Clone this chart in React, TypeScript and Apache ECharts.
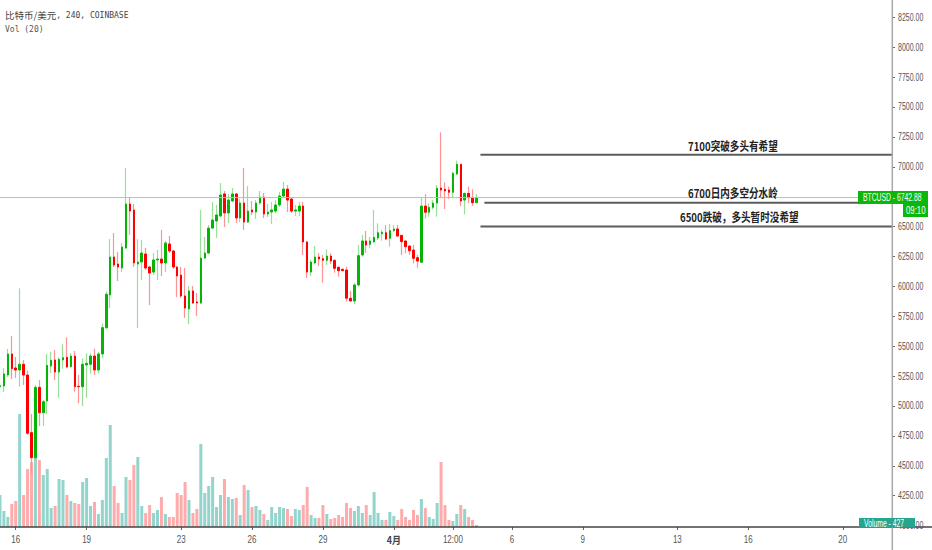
import React, { useEffect, useRef } from "react";
import * as echarts from "echarts";

const openPrices = [
  5161,5167,5259,5435,5318,5301,5349,5259,4777,4568,
  5156,4944,5042,5334,5385,5284,5385,5407,5329,5418,
  5165,5161,5343,5349,5418,5301,5435,5655,5928,6246,
  6187,6154,6321,6689,6639,6187,6204,6271,6162,6120,
  6221,6229,6196,6355,6296,6162,6095,5920,5811,5962,
  5870,5861,6237,6279,6488,6547,6589,6773,6614,6714,
  6773,6572,6697,6538,6639,6622,6697,6747,6605,6622,
  6630,6681,6756,6814,6731,6630,6630,6672,6371,6120,
  6196,6246,6232,6218,6254,6218,6160,6143,6137,5901,
  5878,6012,6263,6380,6352,6371,6405,6441,6449,6402,
  6466,6480,6427,6380,6338,6304,6240,6202,6672,6620,
  6661,6697,6823,6812,6806,6787,6940,7021,6722,6778,
  6742,6700,
];
const closePrices = [
  5170,5268,5435,5312,5301,5349,5259,4772,4568,5156,
  4944,5036,5340,5382,5284,5390,5404,5326,5418,5161,
  5161,5349,5357,5418,5301,5435,5655,5934,6246,6179,
  6162,6329,6689,6630,6196,6204,6279,6154,6112,6221,
  6229,6196,6363,6296,6162,6087,5920,5819,5962,5861,
  5861,6237,6279,6488,6555,6597,6764,6614,6722,6773,
  6572,6697,6538,6630,6622,6697,6747,6605,6622,6639,
  6681,6756,6814,6722,6630,6639,6672,6371,6120,6204,
  6246,6229,6218,6254,6212,6151,6131,6131,5901,5878,
  6012,6257,6380,6346,6380,6410,6449,6452,6396,6466,
  6480,6421,6374,6332,6298,6235,6212,6672,6620,6661,
  6697,6820,6806,6798,6787,6946,7021,6714,6778,6742,
  6700,6742.88,
];
const lowPrices = [
  5084,5117,5242,5226,5234,5161,5176,4758,4440,4492,
  4833,4833,4933,5276,5217,5069,5312,5315,5320,5120,
  5023,5000,5067,5273,5259,5273,5399,5641,5819,6162,
  6045,6120,6313,6430,6162,5652,6054,6137,5844,6095,
  6054,6087,6120,6279,6145,5911,5903,5736,5686,5853,
  5753,5853,6229,6271,6480,6405,6580,6497,6530,6706,
  6530,6538,6472,6530,6597,6564,6681,6572,6580,6522,
  6614,6664,6747,6622,6614,6589,6589,6263,6070,6087,
  6187,6171,6031,6179,6187,6115,6081,6129,5872,5872,
  5853,5998,6248,6282,6318,6365,6388,6382,6388,6332,
  6457,6416,6263,6277,6263,6193,6156,6198,6569,6583,
  6644,6583,6737,6647,6731,6737,6931,6672,6603,6695,
  6672,6695,
];
const highPrices = [
  5276,5318,5477,5585,5410,5984,5385,5295,4933,5176,
  5217,5050,5435,5454,5468,5407,5516,5574,5441,5460,
  5259,5399,5441,5441,5479,5454,5691,5956,6396,6446,
  6288,6363,6990,6739,6689,6396,6388,6321,6170,6279,
  6304,6472,6380,6421,6304,6170,6162,6154,6003,6003,
  5945,6639,6413,6513,6706,6681,6864,6798,6773,6823,
  6781,6731,6990,6839,6714,6722,6798,6781,6689,6706,
  6722,6789,6873,6848,6739,6681,6706,6706,6380,6221,
  6338,6279,6263,6310,6277,6225,6165,6151,6165,5961,
  6026,6346,6430,6463,6415,6639,6527,6472,6513,6522,
  6513,6513,6430,6382,6340,6346,6263,6745,6770,6695,
  6722,6848,7288,6870,6834,6959,7051,7023,6783,6834,
  6812,6772,
];
const volumes = [
  6848,3424,2140,4922,5564,24182,6848,12412,13910,27820,
  14338,11128,12412,4066,4494,10272,10058,6848,5564,5136,
  4922,9630,10486,4494,5350,2782,5778,14766,21828,8774,
  5136,2996,10700,10058,13268,14980,4494,2996,4708,2996,
  3638,6420,2782,2140,2140,7276,6848,9630,5778,2996,
  3852,17762,7276,8774,10700,4280,6848,10272,6420,5992,
  6206,2568,8988,7918,4280,4494,3638,2782,1498,4280,
  2996,4280,4066,3852,2354,3852,3638,4708,8560,2568,
  1926,1926,4708,2782,1712,1926,2568,2140,5136,4066,
  3424,4494,2996,4708,2568,7490,2996,1498,1498,3210,
  2354,1498,3852,2140,1498,3638,2568,5992,4066,2140,
  1712,5136,13910,4708,1498,1284,2782,4708,3852,2140,
  1498,427,
];

const tickIndices = [4, 22, 46, 64, 82, 100, 115, 130, 148, 172, 190, 214];
const tickLabels = ["16", "19", "23", "26", "29", "4月", "12:00", "6", "9", "13", "16", "20"];
const priceTicks = [8250, 8000, 7750, 7500, 7250, 7000, 6750, 6500, 6250, 6000, 5750, 5500, 5250, 5000, 4750, 4500, 4250, 4000];
const barSlots = 227;
const lastPrice = 6742.88;
const levelPrices = [7100, 6700, 6500];
const levelStarts = [122.5, 123.5, 122.5];
const levelNotes = ["7100突破多头有希望", "6700日内多空分水岭", "6500跌破，多头暂时没希望"];

const UP = "#05b505";
const DOWN = "#ff0000";
const SANS = '"Liberation Sans",sans-serif';
const CJK = '"Noto Sans CJK SC",sans-serif';
const MONO = '"DejaVu Sans Mono",monospace';

export default function App() {
  const ref = useRef<HTMLDivElement>(null);
  useEffect(() => {
    const chart = echarts.init(ref.current!, null, { renderer: "svg" });
    const categories = Array.from({ length: barSlots }, (_, i) => {
      const k = tickIndices.indexOf(i);
      return k >= 0 ? tickLabels[k] : String(i);
    });
    const isTick = (i: number) => tickIndices.includes(i);
    const wickData = openPrices.map((o, i) => [o, closePrices[i], lowPrices[i], highPrices[i]]);
    const bodyData = openPrices.map((o, i) => [
      o, closePrices[i], Math.min(o, closePrices[i]), Math.max(o, closePrices[i]),
    ]);
    const volumeData = volumes.map((v, i) => ({
      value: v,
      itemStyle: { color: closePrices[i] >= openPrices[i] ? "#93d4cc" : "#ffabab" },
    }));
    const levelSeries = levelPrices.map((p, k) => ({
      type: "line",
      xAxisIndex: 2,
      yAxisIndex: 0,
      symbol: "none",
      silent: true,
      clip: false,
      z: 6,
      lineStyle: { color: "#5c5c5c", width: 2 },
      data: [[levelStarts[k], p], [barSlots, p]],
    }));
    const noteSpec = [
      { x: 688, y: 145 },
      { x: 688, y: 192.7 },
      { x: 680, y: 216.7 },
    ];
    const tagText = (text: string, x: number, y: number, scaleX: number) => ({
      type: "text",
      z: 11,
      x,
      y,
      scaleX,
      style: { text, fontFamily: SANS, fontSize: 10, fill: "#fff", textVerticalAlign: "middle" },
    });
    chart.setOption({
      animation: false,
      backgroundColor: "#ffffff",
      grid: [
        { left: -2, right: 40, top: 17.3, height: 508.3, outerBoundsMode: "none" },
        { left: -2, right: 40, top: 0, height: 527, outerBoundsMode: "none" },
      ],
      xAxis: [
        { type: "category", gridIndex: 0, data: categories, show: false },
        {
          type: "category",
          gridIndex: 1,
          data: categories,
          axisLine: { show: false, onZero: false },
          axisTick: { show: true, interval: (i: number) => isTick(i), alignWithLabel: true, length: 3, lineStyle: { color: "#666" } },
          axisLabel: { show: false },
          splitLine: { show: false },
        },
        { type: "value", gridIndex: 0, min: 0, max: barSlots, show: false, position: "top", axisLine: { onZero: false } },
      ],
      yAxis: [
        {
          type: "value",
          gridIndex: 0,
          position: "right",
          min: 4000,
          max: 8250,
          interval: 250,
          axisLine: { show: false, onZero: false },
          axisTick: { show: true, length: 3, lineStyle: { color: "#666" } },
          axisLabel: { show: false },
          splitLine: { show: false },
        },
        { type: "value", gridIndex: 1, min: 0, max: 112778, show: false, axisLine: { onZero: false } },
      ],
      series: [
        { type: "bar", name: "Volume", xAxisIndex: 1, yAxisIndex: 1, barWidth: 3, silent: true, z: 1, data: volumeData },
        {
          type: "candlestick",
          name: "wicks",
          xAxisIndex: 0,
          yAxisIndex: 0,
          barWidth: 1,
          silent: true,
          z: 3,
          itemStyle: { color: "#98e098", color0: "#ff9393", borderColor: "#98e098", borderColor0: "#ff9393", borderWidth: 1.2 },
          data: wickData,
        },
        {
          type: "candlestick",
          name: "比特币/美元",
          xAxisIndex: 0,
          yAxisIndex: 0,
          barWidth: 2,
          silent: true,
          z: 4,
          itemStyle: { color: UP, color0: DOWN, borderColor: UP, borderColor0: DOWN, borderWidth: 1 },
          data: bodyData,
        },
        {
          type: "line",
          xAxisIndex: 2,
          yAxisIndex: 0,
          symbol: "none",
          silent: true,
          z: 5,
          lineStyle: { color: "#90dd90", width: 1 },
          data: [[0, lastPrice], [barSlots, lastPrice]],
        },
        ...levelSeries,
      ],
    });
    // The reference's axis type is condensed, which axis labels cannot do, so
    // the labels are scaled texts placed through the axes' own scales.
    const priceLabels = priceTicks.map((p) => ({
      type: "text",
      z: 7,
      x: 898,
      y: chart.convertToPixel({ yAxisIndex: 0 }, p),
      scaleX: 0.7,
      style: { text: p.toFixed(2), fontFamily: SANS, fontSize: 10, fill: "#555", textVerticalAlign: "middle" },
    }));
    const timeLabels = tickLabels.map((t, k) => {
      const month = t === "4月";
      return {
        type: "text",
        z: 7,
        x: chart.convertToPixel({ xAxisIndex: 1 }, categories[tickIndices[k]] === t ? tickIndices[k] : tickIndices[k]),
        y: 540,
        scaleX: month ? 0.9 : 0.8,
        style: {
          text: t,
          fontFamily: month ? CJK : SANS,
          fontWeight: month ? "bold" : "normal",
          fontSize: 10,
          fill: month ? "#444" : "#555",
          textAlign: "center",
          textVerticalAlign: "middle",
        },
      };
    });
    chart.setOption({
      graphic: [
        { type: "line", z: 8, shape: { x1: 0, y1: 527, x2: 932, y2: 527 }, style: { stroke: "#444", lineWidth: 1.3 } },
        { type: "line", z: 8, shape: { x1: 892.3, y1: 0, x2: 892.3, y2: 550 }, style: { stroke: "#a8a8a8", lineWidth: 1.5 } },
        ...priceLabels,
        ...timeLabels,
        ...levelNotes.map((t, k) => ({
          type: "text",
          z: 9,
          x: noteSpec[k].x,
          y: noteSpec[k].y,
          scaleX: 0.8,
          style: { text: t, fontFamily: CJK, fontWeight: "bold", fontSize: 12, fill: "#222", textAlign: "left", textVerticalAlign: "middle" },
        })),
        {
          type: "text",
          z: 9,
          x: 5,
          y: 15,
          style: {
            text: "{a|比特币/美元}{b|, 240, COINBASE}",
            textVerticalAlign: "middle",
            rich: {
              a: { fontFamily: CJK, fontSize: 9.5, fill: "#444" },
              b: { fontFamily: MONO, fontSize: 8, fill: "#444" },
            },
          },
        },
        { type: "text", z: 9, x: 5, y: 29.5, style: { text: "Vol (20)", fontFamily: MONO, fontSize: 8, fill: "#555", textVerticalAlign: "middle" } },
        { type: "rect", z: 10, shape: { x: 858, y: 191, width: 70, height: 13 }, style: { fill: "#0cb70c" } },
        tagText("BTCUSD - 6742.88", 863, 197.5, 0.68),
        { type: "rect", z: 10, shape: { x: 903, y: 204, width: 25, height: 13 }, style: { fill: "#0cb70c" } },
        tagText("09:10", 906, 210.5, 0.78),
        { type: "rect", z: 10, shape: { x: 859, y: 518, width: 56, height: 9.5 }, style: { fill: "#26a68f" } },
        tagText("Volume - 427", 864, 523, 0.68),
      ],
    });
    return () => chart.dispose();
  }, []);
  return <div ref={ref} style={{ position: "absolute", left: 0, top: 0, width: 932, height: 550 }} />;
}
